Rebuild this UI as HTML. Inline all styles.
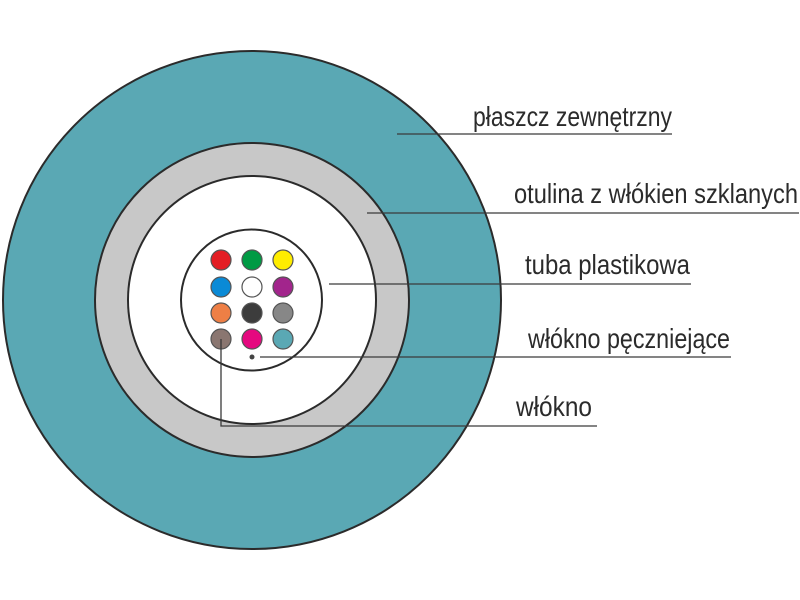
<!DOCTYPE html>
<html><head><meta charset="utf-8"><style>html,body{margin:0;padding:0;background:#fff}svg{display:block}</style></head>
<body>
<svg width="800" height="600" viewBox="0 0 800 600" xmlns="http://www.w3.org/2000/svg">
<circle cx="252" cy="300" r="249" fill="#5aa8b4" stroke="#2b2b2b" stroke-width="2"/>
<circle cx="252" cy="300" r="157" fill="#c8c8c8" stroke="#2b2b2b" stroke-width="2"/>
<circle cx="252" cy="300" r="124" fill="#fff" stroke="#2b2b2b" stroke-width="2"/>
<circle cx="251.5" cy="300" r="70.5" fill="#fff" stroke="#2b2b2b" stroke-width="2"/>
<g stroke="#555" stroke-width="1.2">
<circle cx="221" cy="260" r="10" fill="#e31e24"/>
<circle cx="252" cy="260" r="10" fill="#009a44"/>
<circle cx="283" cy="260" r="10" fill="#ffed00"/>
<circle cx="221" cy="287" r="10" fill="#0a8ad6"/>
<circle cx="252" cy="287" r="10" fill="#fff"/>
<circle cx="283" cy="287" r="10" fill="#a2258c"/>
<circle cx="221" cy="313" r="10" fill="#ee7f45"/>
<circle cx="252" cy="313" r="10" fill="#3c3c3c"/>
<circle cx="283" cy="313" r="10" fill="#878787"/>
<circle cx="221" cy="339" r="10" fill="#8a7670"/>
<circle cx="252" cy="339" r="10" fill="#e5097f"/>
<circle cx="283" cy="339" r="10" fill="#5aa8b4"/>
</g>
<circle cx="252" cy="357" r="2.5" fill="#444"/>
<g stroke="#3a3a3a" stroke-width="1.3" fill="none">
<line x1="397" y1="134" x2="672" y2="134"/>
<line x1="367" y1="213" x2="799" y2="213"/>
<line x1="329" y1="284" x2="691" y2="284"/>
<line x1="260" y1="357" x2="731" y2="357"/>
<polyline points="221,339 221,426 597,426"/>
</g>
<g font-family="Liberation Sans, sans-serif" font-size="28" fill="#2b2b2b">
<text x="473" y="126" textLength="199" lengthAdjust="spacingAndGlyphs">płaszcz zewnętrzny</text>
<text x="514" y="203" textLength="284" lengthAdjust="spacingAndGlyphs">otulina z włókien szklanych</text>
<text x="525" y="274" textLength="165" lengthAdjust="spacingAndGlyphs">tuba plastikowa</text>
<text x="528" y="348" textLength="202" lengthAdjust="spacingAndGlyphs">włókno pęczniejące</text>
<text x="516" y="416" textLength="76" lengthAdjust="spacingAndGlyphs">włókno</text>
</g>
</svg>
</body></html>
